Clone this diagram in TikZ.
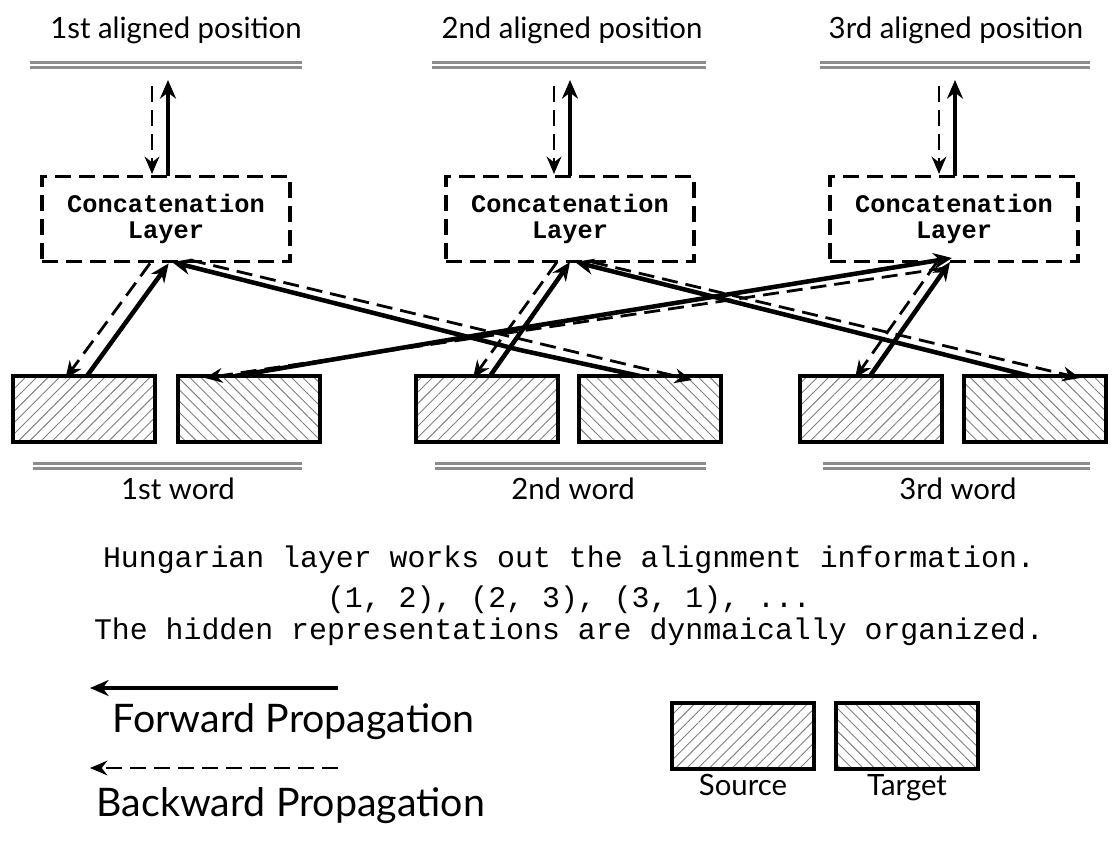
\documentclass[tikz,border=0pt]{standalone}
\usepackage{fontspec}
\setmainfont{Lato}
\setmonofont{Liberation Mono}
\usetikzlibrary{patterns.meta,arrows.meta}
\begin{document}
\begin{tikzpicture}[x=0.75pt,y=-0.75pt,
  dbl/.style={draw=gray!90,line width=2.4pt,double=white,double distance=1.8pt},
  concat/.style={draw,dash pattern=on 12pt off 6pt,line width=2.6pt,minimum width=186pt,minimum height=64pt,align=center,font=\ttfamily\bfseries\fontsize{19}{19.5}\selectfont},
  src/.style={draw,line width=2.8pt,minimum width=106pt,minimum height=49pt,pattern={Lines[angle=45,distance=6pt,line width=0.7pt]},pattern color=gray},
  tgt/.style={draw,line width=2.8pt,minimum width=106pt,minimum height=49pt,pattern={Lines[angle=-45,distance=6pt,line width=0.7pt]},pattern color=gray},
  fw/.style={line width=3.4pt,-{Stealth[length=14pt,width=12pt]}},
  bw/.style={line width=2.1pt,dash pattern=on 12pt off 6pt,-{Stealth[length=13pt,width=11pt]}},
  lbl/.style={font=\fontsize{22}{23}\selectfont,text depth=0.25em,text height=0.75em},
  mono/.style={font=\ttfamily\fontsize{22.4}{24}\selectfont}]
\useasboundingbox (0,0) rectangle (1120,844);
\foreach \a/\b/\n in {30/302/1,432/706/2,820/1090/3}{
  \draw[dbl] (\a,65) -- (\b,65);
  \draw[dbl] (\a+3,466) -- (\b,466);
}
\node[lbl] (p1) at (176,35) {1st aligned position};
\node[lbl] (p2) at (572,35) {2nd aligned position};
\node[lbl] (p3) at (956,35) {3rd aligned position};
\node[concat] (c1) at (166,219) {Concatenation\\Layer};
\node[concat] (c2) at (570,219) {Concatenation\\Layer};
\node[concat] (c3) at (954,219) {Concatenation\\Layer};
\foreach \i/\x in {1/168,2/570,3/955}{
  \draw[fw] (\x,176) -- (\x,80);
  \draw[bw] (\x-16,86) -- (\x-16,174);
}
\node[src] (s1) at (84,409) {};
\node[tgt] (g1) at (249,409) {};
\node[src] (s2) at (487,409) {};
\node[tgt] (g2) at (650,409) {};
\node[src] (s3) at (871,409) {};
\node[tgt] (g3) at (1035,409) {};
\node[lbl] (w1) at (178,496) {1st word};
\node[lbl] (w2) at (573,496) {2nd word};
\node[lbl] (w3) at (958,496) {3rd word};
\draw[fw] (s1.north)++(3,0) -- ([xshift=2pt]c1.south);
\draw[bw] ([xshift=-12pt]c1.south) -- ([xshift=-14pt,yshift=-2pt]s1.north);
\draw[fw] (640,376) -- (520,350) -- (172,262);
\draw[bw] (190,260) -- (692,380);
\draw[fw] (490,376) -- (570,262);
\draw[bw] (557,262) -- (473,378);
\draw[fw] (1030,376) -- (575,262);
\draw[bw] (592,262) -- (1080,378);
\draw[fw] (870,376) -- (950,262);
\draw[bw] (937,262) -- (855,378);
\draw[fw] (235,376) -- (472,336) -- (952,258);
\draw[bw] (945,268) -- (205,378);
\node[mono] (m1) at (569,560) {Hungarian layer works out the alignment information.};
\node[mono] (m2) at (569,600) {(1, 2), (2, 3), (3, 1), ...};
\node[mono] (m3) at (569,632) {The hidden representations are dynmaically organized.};
\coordinate (f0) at (338,688); \coordinate (f1) at (90,688);
\draw[fw] (f0) -- (f1);
\coordinate (b0) at (338,768); \coordinate (b1) at (90,768);
\draw[bw] (b0) -- (b1);
\node[font=\fontsize{29.5}{30}\selectfont,anchor=west] (fl) at (108,722) {Forward Propagation};
\node[font=\fontsize{29.5}{30}\selectfont,anchor=west] (bl) at (92,806) {Backward Propagation};
\node[src] (ls) at (743,736) {};
\node[tgt] (lt) at (907,736) {};
\node[lbl] (lsl) at (743,792) {Source};
\node[lbl] (ltl) at (907,792) {Target};
\end{tikzpicture}
\end{document}
